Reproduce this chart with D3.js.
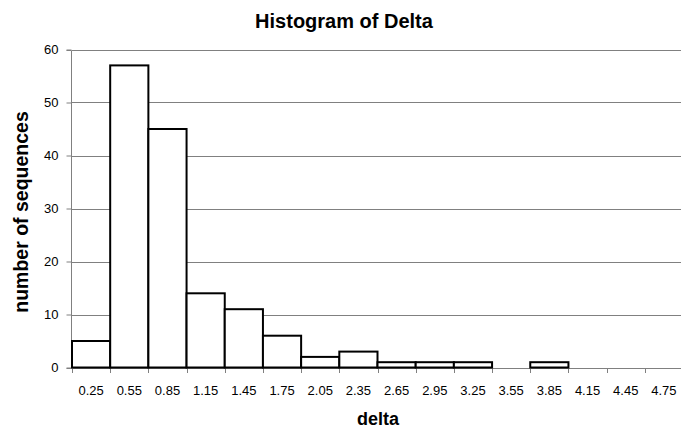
<!DOCTYPE html>
<html><head><meta charset="utf-8">
<script src="https://cdn.jsdelivr.net/npm/d3@7"></script>
<style>body{margin:0;background:#fff;} svg{display:block;}</style>
</head><body>
<svg id="c" width="681" height="429"></svg>
<script>
const categories = ["0.25","0.55","0.85","1.15","1.45","1.75","2.05","2.35","2.65","2.95","3.25","3.55","3.85","4.15","4.45","4.75"];
const counts = [5,57,45,14,11,6,2,3,1,1,1,0,1,0,0,0];
const yTicks = [0,10,20,30,40,50,60];

(function(){
const svg = d3.select("#c");
const pLeft = 72, pRight = 683, pTop = 49.5, pBottom = 367.5;
const x = d3.scaleBand().domain(categories).range([pLeft, pRight]).padding(0);
const y = d3.scaleLinear().domain([0,60]).range([pBottom, pTop]);
const font = "Arial, 'Liberation Sans', sans-serif";

// gridlines
svg.append("g").selectAll("line").data(yTicks.filter(d=>d>0)).join("line")
  .attr("x1", pLeft).attr("x2", 681).attr("y1", d=>Math.round(y(d))+0.5).attr("y2", d=>Math.round(y(d))+0.5)
  .attr("stroke", "#808080").attr("stroke-width", 1);

// y axis
const ya = svg.append("g").attr("transform", `translate(${pLeft-0.5},0)`)
  .call(d3.axisLeft(y).tickValues(yTicks).tickSize(5).tickPadding(8).tickFormat(d3.format("d")));
ya.select(".domain").attr("stroke", "#808080").attr("d", `M-5,${Math.round(pTop)+0.5}H0V${Math.round(pBottom)+0.5}H-5`);
ya.selectAll(".tick line").attr("stroke", "#808080");
ya.selectAll(".tick text").attr("font-family", font).attr("font-size", 13).attr("fill", "#000");

// x axis
const xa = svg.append("g").attr("transform", `translate(0,${Math.round(pBottom)+0.5})`)
  .call(d3.axisBottom(x).tickSize(0).tickPadding(17));
xa.select(".domain").attr("stroke", "#808080").attr("d", `M${pLeft},0H681`);
xa.selectAll(".tick text").attr("font-family", font).attr("font-size", 13).attr("fill", "#000");
const bounds = categories.map(c=>x(c)).concat([pRight]);
svg.append("g").selectAll("line").data(bounds).join("line")
  .attr("x1", d=>Math.round(d)+0.5).attr("x2", d=>Math.round(d)+0.5)
  .attr("y1", Math.round(pBottom)).attr("y2", Math.round(pBottom)+5)
  .attr("stroke", "#808080");

// bars
svg.append("g").selectAll("rect").data(categories.map((c,i)=>({c, v:counts[i]})).filter(d=>d.v>0)).join("rect")
  .attr("x", d=>x(d.c)).attr("width", x.bandwidth())
  .attr("y", d=>y(d.v)).attr("height", d=>pBottom - y(d.v))
  .attr("fill", "#fff").attr("stroke", "#000").attr("stroke-width", 2);

// titles
svg.append("text").attr("x", 344).attr("y", 28).attr("text-anchor", "middle")
  .attr("font-family", font).attr("font-weight", "bold").attr("font-size", 20).text("Histogram of Delta");
svg.append("text").attr("x", 378).attr("y", 425).attr("text-anchor", "middle")
  .attr("font-family", font).attr("font-weight", "bold").attr("font-size", 18).text("delta");
svg.append("text").attr("transform", "translate(28,212) rotate(-90)").attr("text-anchor", "middle")
  .attr("font-family", font).attr("font-weight", "bold").attr("font-size", 19.5).text("number of sequences");
})();
</script>
</body></html>
